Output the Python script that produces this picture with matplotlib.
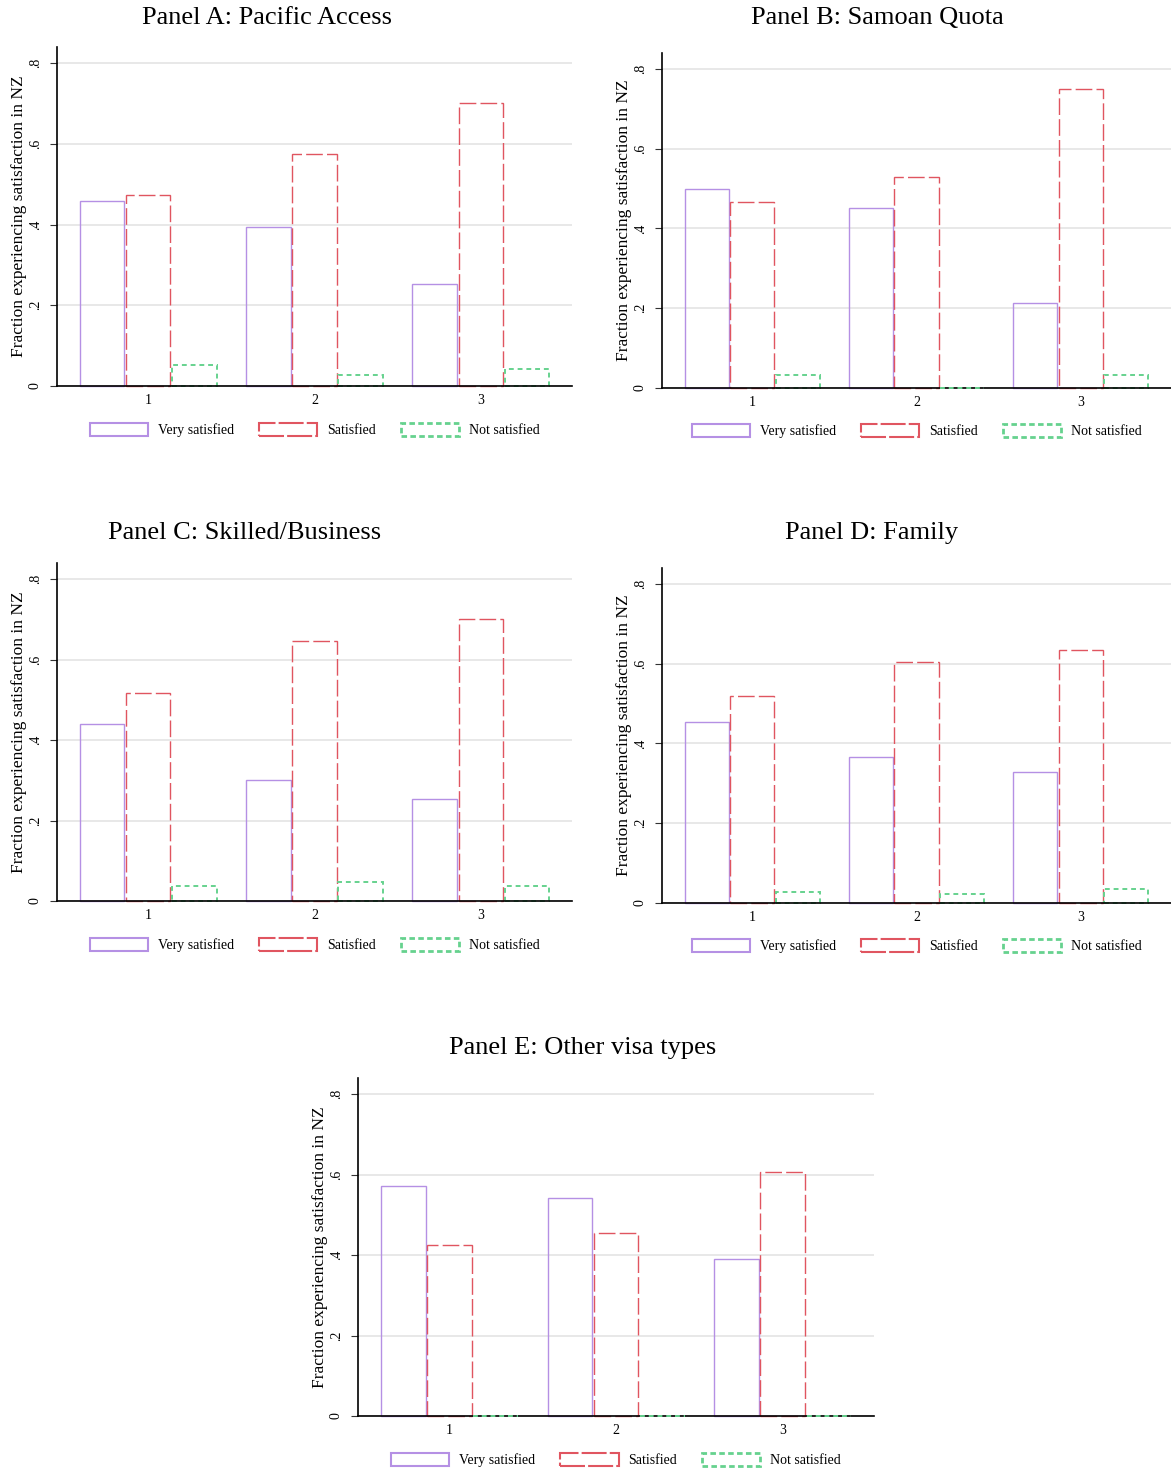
import numpy as np
import matplotlib
matplotlib.use("Agg")
import matplotlib.pyplot as plt
from matplotlib.patches import Patch

plt.rcParams['font.family'] = ['Liberation Serif', 'DejaVu Serif']

W, H = 1171, 1469

groups = ['1', '2', '3']
series = ['Very satisfied', 'Satisfied', 'Not satisfied']

titles = ['Panel A: Pacific Access', 'Panel B: Samoan Quota',
          'Panel C: Skilled/Business', 'Panel D: Family',
          'Panel E: Other visa types']

very_sat = [[0.458, 0.394, 0.253],
            [0.498, 0.451, 0.214],
            [0.440, 0.301, 0.254],
            [0.455, 0.365, 0.328],
            [0.572, 0.542, 0.391]]
sat = [[0.473, 0.575, 0.701],
       [0.466, 0.528, 0.750],
       [0.516, 0.647, 0.701],
       [0.518, 0.605, 0.635],
       [0.426, 0.456, 0.607]]
not_sat = [[0.052, 0.027, 0.042],
           [0.032, 0.000, 0.032],
           [0.037, 0.047, 0.037],
           [0.028, 0.022, 0.035],
           [0.000, 0.000, 0.000]]

# axes boxes in pixels: left, top, right, bottom
boxes = [(57, 47, 572, 386),
         (662, 53, 1171, 388),
         (57, 563, 572, 901),
         (662, 568, 1171, 903),
         (358, 1078, 874, 1416)]
title_pos = [(267, 18), (877, 18), (245, 533), (872, 533), (583, 1048)]
legend_y = [430, 431, 945, 946, 1460]

purple = '#b590e4'
red = '#e05560'
green = '#66d28e'
styles = [dict(edgecolor=purple, linewidth=1.0, linestyle='-'),
          dict(edgecolor=red, linewidth=1.0, linestyle=(0, (12, 3))),
          dict(edgecolor=green, linewidth=1.4, linestyle=(0, (2.5, 2)))]

fig = plt.figure(figsize=(W / 100, H / 100), dpi=100)

x = np.arange(1, len(groups) + 1)
bw = 0.268
off = 0.277

for i in range(5):
    l, t, r, b = boxes[i]
    ax = fig.add_axes([l / W, 1 - b / H, (r - l) / W, (b - t) / H])
    vals = [very_sat[i], sat[i], not_sat[i]]
    for k in range(3):
        bars = ax.bar(x + (k - 1) * off, vals[k], width=bw, facecolor='none',
                      zorder=3, clip_on=False, **styles[k])
        # empty categories still show as a flat dotted line on the axis
        for p in bars:
            if p.get_height() == 0:
                p.set_visible(False)
                ax.plot([p.get_x(), p.get_x() + p.get_width()], [0, 0],
                        color=styles[k]['edgecolor'],
                        linewidth=styles[k]['linewidth'],
                        linestyle=styles[k]['linestyle'],
                        zorder=5, clip_on=False)
    ax.set_xlim(0.452, 3.548)
    ax.set_ylim(0, 0.84)
    ax.set_yticks([0, 0.2, 0.4, 0.6, 0.8], ['0', '.2', '.4', '.6', '.8'],
                  rotation=90, va='center')
    ax.set_xticks(x, groups)
    ax.tick_params(axis='x', length=0, pad=6, labelsize=10)
    ax.tick_params(axis='y', length=5, width=0.8, color='#333333',
                   pad=6, labelsize=10)
    ax.grid(axis='y', color='#e4e4e4', linewidth=1.2, zorder=0)
    for side in ['top', 'right']:
        ax.spines[side].set_visible(False)
    for side in ['left', 'bottom']:
        ax.spines[side].set_linewidth(1.2)
        ax.spines[side].set_zorder(4)
    ax.set_ylabel('Fraction experiencing satisfaction in NZ', fontsize=12.5,
                  labelpad=1)

    handles = [Patch(facecolor='none', edgecolor=purple, linewidth=1.5),
               Patch(facecolor='none', edgecolor=red, linewidth=1.5,
                     linestyle=(0, (12, 1.5))),
               Patch(facecolor='none', edgecolor=green, linewidth=2.0,
                     linestyle=(0, (2, 1.2)))]
    ly = (b - legend_y[i]) / (b - t)
    ax.legend(handles, series, loc='center', bbox_to_anchor=(0.5, ly),
              ncol=3, frameon=False, fontsize=10, handlelength=4.2,
              handleheight=1.05, handletextpad=0.7, columnspacing=1.8)

    tx, ty = title_pos[i]
    fig.text(tx / W, 1 - ty / H, titles[i], ha='center', va='center',
             fontsize=19)

fig.savefig('out.png', dpi=100)
